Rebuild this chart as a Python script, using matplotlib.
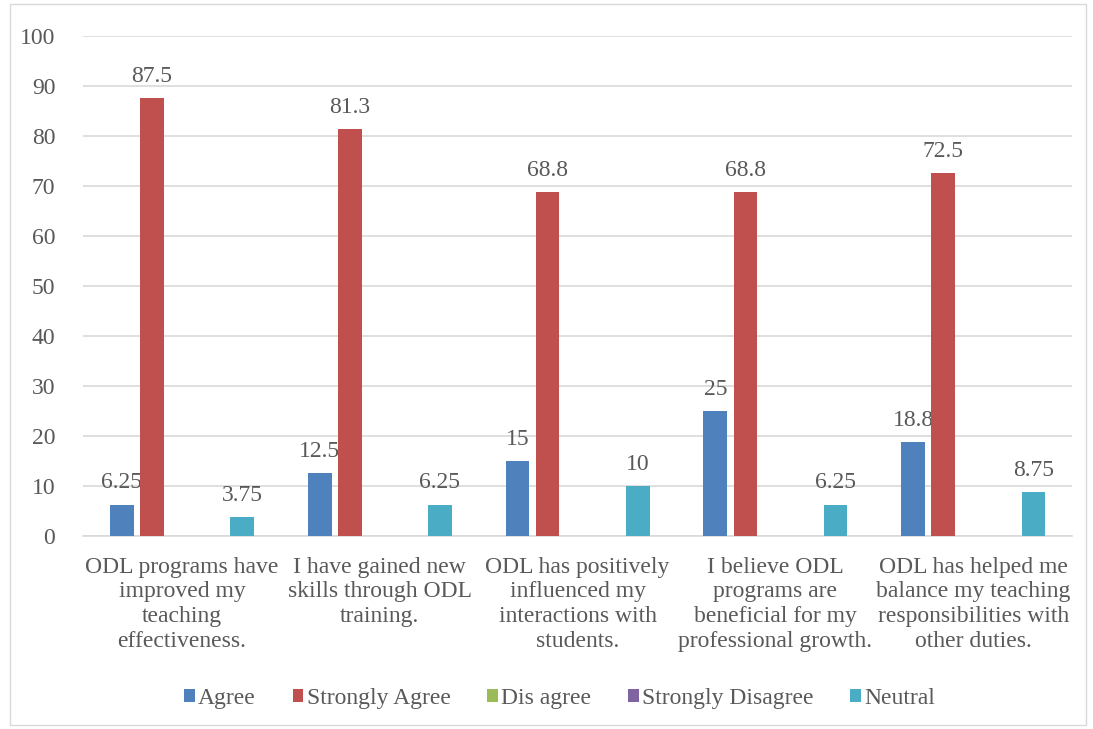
import matplotlib.pyplot as plt
import numpy as np
from matplotlib.patches import Rectangle

plt.rcParams['font.family'] = ['Liberation Serif', 'DejaVu Serif']

categories = [
    "ODL programs have\nimproved my\nteaching\neffectiveness.",
    "I have gained new\nskills through ODL\ntraining.",
    "ODL has positively\ninfluenced my\ninteractions with\nstudents.",
    "I believe ODL\nprograms are\nbeneficial for my\nprofessional growth.",
    "ODL has helped me\nbalance my teaching\nresponsibilities with\nother duties.",
]
series_names = ["Agree", "Strongly Agree", "Dis agree", "Strongly Disagree", "Neutral"]
agree = [6.25, 12.5, 15, 25, 18.8]
strongly_agree = [87.5, 81.3, 68.8, 68.8, 72.5]
dis_agree = [0, 0, 0, 0, 0]
strongly_disagree = [0, 0, 0, 0, 0]
neutral = [3.75, 6.25, 10, 6.25, 8.75]
colors = ["#4F81BD", "#C0504D", "#9BBB59", "#8064A2", "#4BACC6"]

text_color = "#595959"
grid_color = "#D9D9D9"
fs = 17

fig = plt.figure(figsize=(10.93, 7.29), dpi=100)
ax = fig.add_axes([0.076, 0.265, 0.905, 0.686])

# outer chart border
fig.patches.append(Rectangle((0.009, 0.006), 0.985, 0.988, transform=fig.transFigure,
                             fill=False, edgecolor=grid_color, linewidth=1))

x = np.arange(len(categories))
all_series = [agree, strongly_agree, dis_agree, strongly_disagree, neutral]
step = 0.152
width = 0.12
for i, (name, vals, col) in enumerate(zip(series_names, all_series, colors)):
    bars = ax.bar(x + (i - 2) * step, vals, width, color=col, label=name, zorder=3)
    labels = ['%g' % v if v != 0 else '' for v in vals]
    ax.bar_label(bars, labels=labels, padding=8, fontsize=fs, color=text_color)

ax.set_xlim(-0.5, len(categories) - 0.5)
ax.set_ylim(0, 100)
ax.set_yticks(range(0, 101, 10))
ax.yaxis.grid(True, color=grid_color, linewidth=1.2, zorder=0)
ax.set_axisbelow(True)
for s in ['top', 'right', 'left']:
    ax.spines[s].set_visible(False)
ax.spines['bottom'].set_color(grid_color)
ax.spines['bottom'].set_linewidth(1.2)
ax.tick_params(axis='both', length=0, labelsize=fs, colors=text_color)
ax.tick_params(axis='y', pad=20)
ax.tick_params(axis='x', pad=15)
ax.set_xticks(x)
ax.set_xticklabels(categories, linespacing=1.24)

leg = ax.legend(loc='center', ncol=5, frameon=False, fontsize=fs,
                handlelength=0.45, handleheight=0.45, handletextpad=0.15,
                columnspacing=1.55, labelcolor=text_color)
leg.set_bbox_to_anchor((0.512, 0.042), transform=fig.transFigure)

fig.savefig('out.png', dpi=100)
